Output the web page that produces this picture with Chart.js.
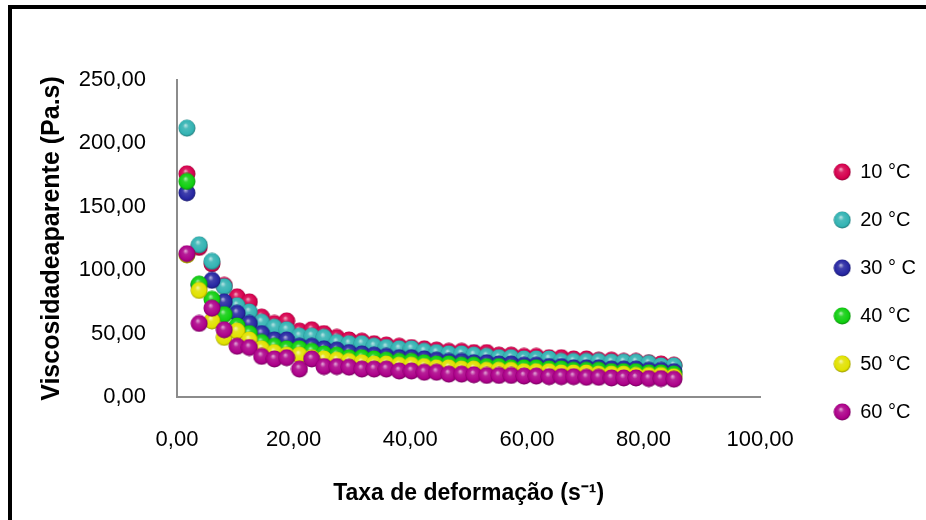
<!DOCTYPE html>
<html>
<head>
<meta charset="utf-8">
<script src="https://cdn.jsdelivr.net/npm/chart.js@4.4.0/dist/chart.umd.min.js"></script>
<style>
html, body { margin: 0; padding: 0; background: #fff; overflow: hidden; }
#wrap { position: relative; width: 926px; height: 520px; overflow: hidden; }
#frame { position: absolute; left: 8px; top: 5px; width: 1000px; height: 600px;
  border-top: 4px solid #000; border-left: 4px solid #000; pointer-events: none; }
</style>
</head>
<body>
<div id="wrap">
  <canvas id="viscosidade" width="926" height="520"></canvas>
  <div id="frame"></div>
</div>
<script>
// taxa de deformação (s-1), shared by all series
var taxa = [1.7, 3.8, 6.0, 8.1, 10.3, 12.4, 14.5, 16.7, 18.8, 21.0,
            23.1, 25.2, 27.4, 29.5, 31.7, 33.8, 35.9, 38.1, 40.2, 42.4,
            44.5, 46.6, 48.8, 50.9, 53.1, 55.2, 57.3, 59.5, 61.6, 63.8,
            65.9, 68.0, 70.2, 72.3, 74.5, 76.6, 78.7, 80.9, 83.0, 85.2];

var temperaturas = ['10 °C', '20 °C', '30 ° C', '40 °C', '50 °C', '60 °C'];
var cores = ['#d6004e', '#33b3b3', '#2626a2', '#10cf10', '#e2e200', '#ad008a'];

// viscosidade aparente (Pa.s)
var visc10 = [176, 118, 105, 88, 79, 75, 63, 58, 60, 52,
              53, 50, 47, 45, 44, 42, 41, 40, 39, 38,
              37, 36, 36, 35, 35, 33, 33, 32, 32, 31,
              31, 30, 30, 29, 29, 28, 28, 27, 26, 25];
var visc20 = [212, 120, 107, 87, 72, 67, 59, 55, 53, 48,
              48, 47, 43, 42, 42, 40, 39, 38, 38, 36,
              35, 34, 34, 33, 32, 31, 31, 30, 30, 30,
              28, 28, 28, 28, 27.5, 27.5, 27.5, 26.5, 24.5, 24.5];
var visc30 = [161, 88, 92, 75, 66, 58, 50, 45, 45, 40,
              40, 38, 37, 35, 34, 33, 32, 31, 31, 30,
              29, 28, 28, 27, 27, 26, 26, 25, 25, 24,
              24, 23, 23, 23, 22, 22, 22, 21, 21, 20];
var visc40 = [170, 89, 77, 65, 56, 50, 43, 40, 38, 38,
              36, 34, 33, 31, 31, 30, 29, 28, 28, 27,
              26, 26, 25, 25, 24, 24, 23, 23, 23, 22,
              22, 21, 21, 21, 20, 20, 20, 19, 19, 18];
var visc50 = [112, 84, 60, 47, 52, 45, 38, 35, 33, 33,
              31, 30, 29, 28, 27, 26, 26, 25, 25, 24,
              23, 23, 22, 22, 21, 21, 21, 20, 20, 20,
              19, 19, 19, 18, 18, 18, 17, 17, 17, 16];
var visc60 = [113, 58, 70, 53, 40, 39, 32, 30, 31, 22,
              30, 24, 24, 23.5, 22, 22, 22, 20.5, 20.5, 19.5,
              19.5, 18, 18, 17.5, 17, 17, 17, 16.5, 16.5, 16,
              16, 16, 15.5, 15.5, 15, 15, 15, 14.5, 14.5, 14];
var series = [visc10, visc20, visc30, visc40, visc50, visc60];

function mistura(hex, alvo, t) {
  var r = parseInt(hex.substr(1, 2), 16), g = parseInt(hex.substr(3, 2), 16), b = parseInt(hex.substr(5, 2), 16);
  r = Math.round(r + (alvo[0] - r) * t);
  g = Math.round(g + (alvo[1] - g) * t);
  b = Math.round(b + (alvo[2] - b) * t);
  return 'rgb(' + r + ',' + g + ',' + b + ')';
}

// shaded ball marker like the spreadsheet one
function bola(cor) {
  var c = document.createElement('canvas');
  c.width = 18; c.height = 18;
  var g = c.getContext('2d');
  var grad = g.createRadialGradient(7.5, 6, 0, 9, 9, 9.5);
  grad.addColorStop(0, mistura(cor, [255, 255, 255], 0.7));
  grad.addColorStop(0.3, mistura(cor, [255, 255, 255], 0.12));
  grad.addColorStop(0.75, cor);
  grad.addColorStop(1, mistura(cor, [0, 0, 0], 0.5));
  g.fillStyle = grad;
  g.beginPath();
  g.arc(9, 9, 8.5, 0, Math.PI * 2);
  g.fill();
  return c;
}

function virgula(v) {
  return Number(v).toFixed(2).replace('.', ',');
}

var datasets = [];
for (var i = 0; i < series.length; i++) {
  var pts = [];
  for (var j = 0; j < taxa.length; j++) {
    pts.push({x: taxa[j], y: series[i][j]});
  }
  datasets.push({
    label: temperaturas[i],
    data: pts,
    pointStyle: bola(cores[i]),
    pointRadius: 8,
    backgroundColor: cores[i],
    borderColor: cores[i],
    order: series.length - i
  });
}

Chart.defaults.font.family = "'Liberation Sans', Arial, sans-serif";
Chart.defaults.color = '#000';

var ctx = document.getElementById('viscosidade').getContext('2d');
var myChart = new Chart(ctx, {
  type: 'scatter',
  data: { datasets: datasets },
  options: {
    responsive: false,
    animation: false,
    layout: { padding: { top: 67, bottom: 3, left: 12, right: 0 } },
    plugins: {
      tooltip: { enabled: false },
      legend: {
        position: 'right',
        align: 'center',
        labels: {
          usePointStyle: true,
          boxWidth: 16,
          padding: 28,
          font: { size: 20 },
          color: '#000',
          sort: function (a, b) { return a.datasetIndex - b.datasetIndex; }
        }
      }
    },
    scales: {
      x: {
        type: 'linear',
        min: 0,
        max: 100,
        grid: { display: false, drawTicks: false },
        border: { display: true, color: '#8c8c8c', width: 2 },
        ticks: { stepSize: 20, padding: 30, font: { size: 22 }, callback: virgula },
        title: {
          display: true,
          text: 'Taxa de deformação (s⁻¹)',
          font: { size: 23, weight: 'bold' },
          padding: { top: 20, bottom: 10 }
        },
        afterFit: function (s) { s.height = 120; }
      },
      y: {
        type: 'linear',
        min: 0,
        max: 250,
        grid: { display: false, drawTicks: false },
        border: { display: true, color: '#8c8c8c', width: 2 },
        ticks: { stepSize: 50, padding: 31, font: { size: 22 }, callback: virgula },
        title: {
          display: true,
          text: 'Viscosidadeaparente (Pa.s)',
          font: { size: 25, weight: 'bold' },
          padding: { top: 25, bottom: 14 }
        },
        afterFit: function (s) { s.width = 165; }
      },
      topo: {
        type: 'linear',
        position: 'top',
        display: true,
        grid: { display: false },
        border: { display: false },
        ticks: { display: false },
        afterFit: function (s) { s.height = 13; }
      },
      folga: {
        type: 'linear',
        position: 'right',
        display: true,
        grid: { display: false },
        border: { display: false },
        ticks: { display: false },
        afterFit: function (s) { s.width = 46; }
      }
    }
  }
});
</script>
</body>
</html>
